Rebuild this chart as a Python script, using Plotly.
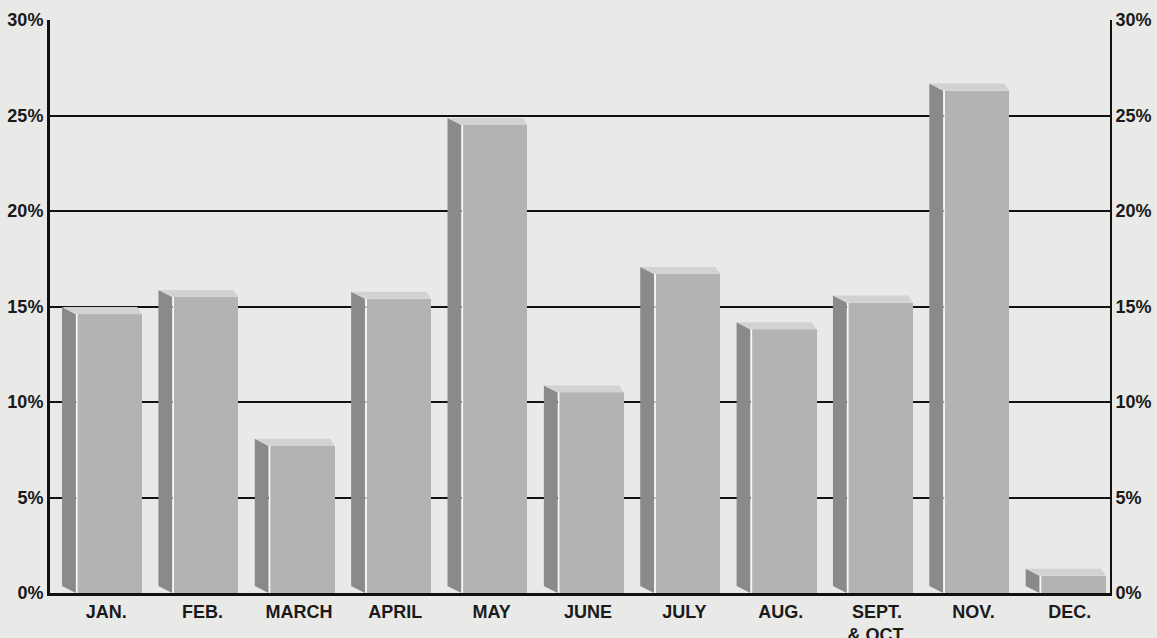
import plotly.graph_objects as go

categories = ["JAN.", "FEB.", "MARCH", "APRIL", "MAY", "JUNE", "JULY", "AUG.", "SEPT.<br>& OCT.", "NOV.", "DEC."]
values = [14.6, 15.5, 7.7, 15.4, 24.5, 10.5, 16.7, 13.8, 15.2, 26.3, 0.9]
y_ticks = [0, 5, 10, 15, 20, 25, 30]
y_labels = [f"{t}%" for t in y_ticks]

FRONT = "#b3b3b3"
SIDE = "#8a8a8a"
TOP = "#d2d2d2"
BG = "#e9e9e7"

# 3D geometry in axis units
front_off = -0.215
front_w = 0.67
side_l = -0.375
side_r = -0.232
dy = 0.37

fig = go.Figure()
xs = list(range(len(categories)))

# side faces and top faces
for i, v in zip(xs, values):
    fig.add_trace(go.Scatter(
        x=[i + side_l, i + side_l, i + side_r, i + side_r, i + side_l],
        y=[dy, v + dy, v, 0, dy],
        mode="lines", fill="toself", fillcolor=SIDE,
        line=dict(width=0), hoverinfo="skip", showlegend=False))
    fig.add_trace(go.Scatter(
        x=[i + side_l, i + front_off + front_w - 0.05, i + front_off + front_w, i + front_off, i + side_l],
        y=[v + dy, v + dy, v, v, v + dy],
        mode="lines", fill="toself", fillcolor=TOP,
        line=dict(width=0), hoverinfo="skip", showlegend=False))

# front faces
fig.add_trace(go.Bar(
    x=xs, y=values, width=front_w, offset=front_off,
    marker=dict(color=FRONT, line=dict(width=0)),
    showlegend=False))

# thin highlight between side and front
for i, v in zip(xs, values):
    fig.add_trace(go.Scatter(
        x=[i + front_off - 0.006, i + front_off - 0.006], y=[0, v],
        mode="lines", line=dict(color="#f7f7f7", width=1.5),
        hoverinfo="skip", showlegend=False))

# invisible trace for right axis
fig.add_trace(go.Scatter(x=[0], y=[0], yaxis="y2", mode="markers",
                         marker=dict(opacity=0), hoverinfo="skip", showlegend=False))

font_axis = dict(family="Liberation Sans, Arial, sans-serif", size=18, color="#1a1a1a")

fig.update_layout(
    width=1157, height=638,
    margin=dict(l=50, r=47, t=20, b=45),
    paper_bgcolor=BG, plot_bgcolor=BG,
    bargap=0,
    xaxis=dict(
        range=[-0.5, len(categories) - 0.5],
        tickmode="array", tickvals=xs, ticktext=[f"<b>{c}</b>" for c in categories],
        tickfont=font_axis, showgrid=False, zeroline=False, automargin=False,
        ticklabelshift=8,
        showline=True, linecolor="#111", linewidth=3, ticks="", fixedrange=True,
    ),
    yaxis=dict(
        range=[0, 30], tickmode="array", tickvals=y_ticks,
        ticktext=[f"<b>{t}</b>" for t in y_labels], automargin=False,
        tickfont=font_axis, showgrid=True, gridcolor="#111", gridwidth=2,
        zeroline=False, showline=True, linecolor="#111", linewidth=3, ticks="",
    ),
    yaxis2=dict(
        range=[0, 30], overlaying="y", side="right", tickmode="array", tickvals=y_ticks,
        ticktext=[f"<b>{t}</b>" for t in y_labels], automargin=False,
        tickfont=font_axis, showgrid=False, zeroline=False,
        showline=True, linecolor="#111", linewidth=2, ticks="",
    ),
)

fig.write_html("out.html", config={"displayModeBar": False},
               post_script="document.body.style.margin='0';document.body.style.overflow='hidden';")
